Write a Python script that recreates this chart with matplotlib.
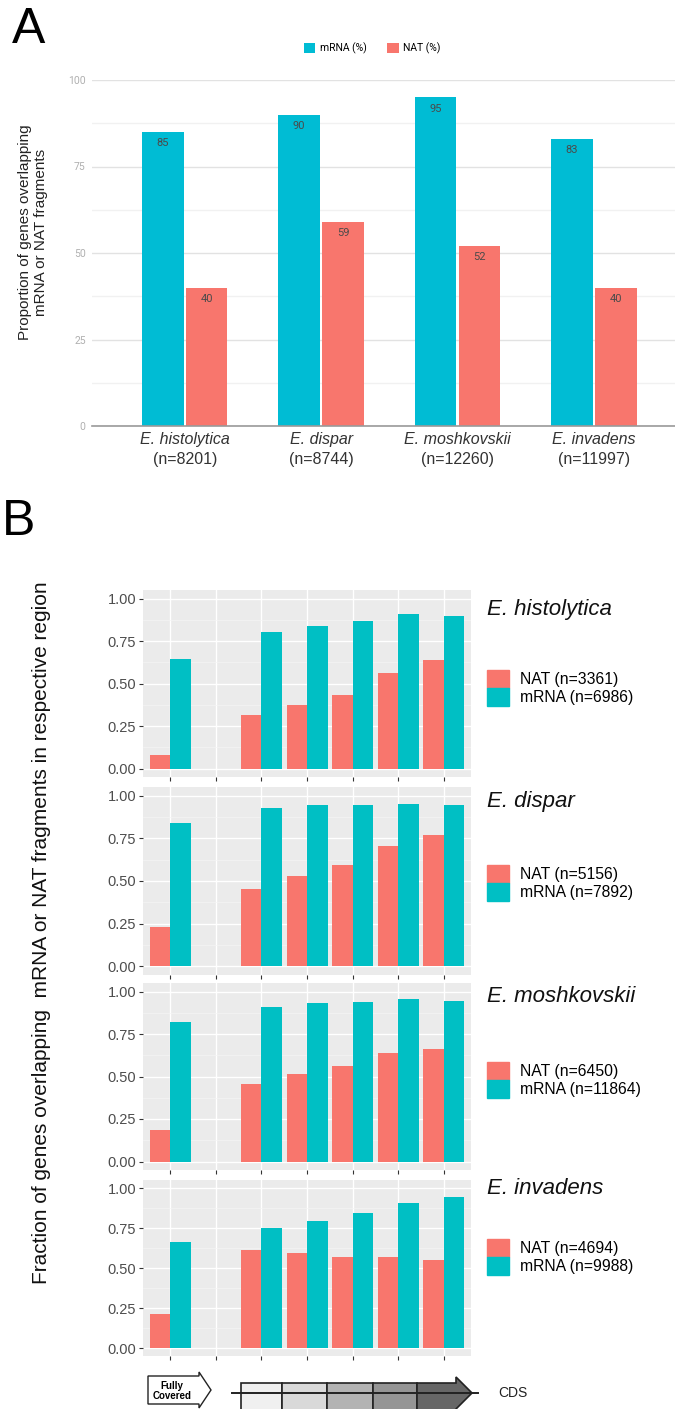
import numpy as np
import matplotlib
matplotlib.use("Agg")
import matplotlib.pyplot as plt
from matplotlib.patches import Polygon, Rectangle
from matplotlib.lines import Line2D

plt.rcParams['font.family'] = ['Liberation Sans', 'DejaVu Sans']

W, H = 675, 1409

# Panel A: proportion of genes with any overlap (%)
species = ["E. histolytica", "E. dispar", "E. moshkovskii", "E. invadens"]
gene_counts = [8201, 8744, 12260, 11997]
mrna_pct = [85, 90, 95, 83]
nat_pct = [40, 59, 52, 40]

# Panel B: fraction per gene region (second slot is an empty spacer)
regions = ["full", "", "q1", "q2", "q3", "q4", "q5"]
nat_frac = {
    "E. histolytica": [0.078, np.nan, 0.316, 0.376, 0.431, 0.559, 0.639],
    "E. dispar": [0.233, np.nan, 0.453, 0.529, 0.594, 0.704, 0.767],
    "E. moshkovskii": [0.187, np.nan, 0.456, 0.513, 0.564, 0.639, 0.660],
    "E. invadens": [0.215, np.nan, 0.610, 0.592, 0.567, 0.567, 0.552],
}
mrna_frac = {
    "E. histolytica": [0.647, np.nan, 0.805, 0.840, 0.865, 0.910, 0.900],
    "E. dispar": [0.839, np.nan, 0.929, 0.943, 0.943, 0.949, 0.943],
    "E. moshkovskii": [0.821, np.nan, 0.906, 0.931, 0.941, 0.953, 0.945],
    "E. invadens": [0.663, np.nan, 0.752, 0.792, 0.846, 0.908, 0.944],
}
nat_n = [3361, 5156, 6450, 4694]
mrna_n = [6986, 7892, 11864, 9988]

A_CYAN = "#00bcd4"
A_RED = "#f8766d"
G_RED = "#F8766D"
G_CYAN = "#00BFC4"


def rect(left, top, right, bottom):
    return [left / W, 1 - bottom / H, (right - left) / W, (bottom - top) / H]


fig = plt.figure(figsize=(W / 100, H / 100), dpi=100)

# ---------------- panel A ----------------
axA = fig.add_axes(rect(92, 80, 675, 426))
x = np.arange(len(species))
bw = 0.305
b1 = axA.bar(x - bw / 2 - 0.008, mrna_pct, bw, color=A_CYAN, zorder=3)
b2 = axA.bar(x + bw / 2 + 0.008, nat_pct, bw, color=A_RED, zorder=3)
for bars, vals in ((b1, mrna_pct), (b2, nat_pct)):
    for b, v in zip(bars, vals):
        axA.text(b.get_x() + b.get_width() / 2, v - 3.3, str(v), ha='center',
                 va='center', fontsize=8, color='#4a4a4a', family='Roboto', zorder=4)
axA.set_xlim(-0.68, 3.595)
axA.set_ylim(0, 100)
axA.set_yticks([0, 25, 50, 75, 100])
axA.set_yticks(np.arange(12.5, 100, 25), minor=True)
axA.tick_params(axis='y', which='both', length=0, labelsize=7.5, labelcolor='#b0b0b0',
                pad=4.5)
for lab in axA.get_yticklabels():
    lab.set_family('Roboto')
axA.grid(axis='y', which='major', color='#e2e2e2', lw=1, zorder=0)
axA.grid(axis='y', which='minor', color='#f1f1f1', lw=1, zorder=0)
axA.set_xticks(x)
axA.set_xticklabels([''] * len(species))
axA.tick_params(axis='x', length=0)
for s in ('top', 'right', 'left'):
    axA.spines[s].set_visible(False)
axA.spines['bottom'].set_color('#9a9a9a')
axA.spines['bottom'].set_linewidth(1.2)
axA.spines['bottom'].set_zorder(5)
for xi, name, n in zip(x, species, gene_counts):
    axA.text(xi, -1.7, name, ha='center', va='top', style='italic', fontsize=11.5,
             color='#333333')
    axA.text(xi, -7.5, "(n=%d)" % n, ha='center', va='top', fontsize=11.5,
             color='#333333')
fig.text(33 / W, 1 - 232 / H, "Proportion of genes overlapping\nmRNA or NAT fragments",
         rotation=90, fontsize=11, color='#222222', ha='center', va='center',
         linespacing=1.15)
axA.legend([b1, b2], ["mRNA (%)", "NAT (%)"], loc='center',
           bbox_to_anchor=(372 / W, 1 - 48 / H), bbox_transform=fig.transFigure,
           ncol=2, frameon=False, handlelength=1.1, handleheight=1.1,
           handletextpad=0.4, columnspacing=2.0,
           prop={'family': 'Roboto', 'size': 7.5})

# ---------------- panel B ----------------
facet_box = [(590, 777), (787, 975), (983, 1170), (1180, 1356)]
title_y = [610, 802, 997, 1188]
legend_y = [688, 883, 1080, 1257]
xr = np.arange(1, len(regions) + 1)
hw = 0.45
for i, sp in enumerate(species):
    top, bottom = facet_box[i]
    ax = fig.add_axes(rect(143, top, 471, bottom))
    ax.set_facecolor('#EBEBEB')
    ax.bar(xr - hw / 2, nat_frac[sp], hw, color=G_RED, zorder=3)
    ax.bar(xr + hw / 2, mrna_frac[sp], hw, color=G_CYAN, zorder=3)
    ax.set_xlim(0.4, 7.6)
    ax.set_ylim(-0.05, 1.05)
    ax.set_xticks(xr)
    ax.set_xticklabels([''] * len(regions))
    ax.set_yticks([0, 0.25, 0.5, 0.75, 1.0])
    ax.set_yticklabels(["0.00", "0.25", "0.50", "0.75", "1.00"])
    ax.set_yticks(np.arange(0.125, 1.0, 0.25), minor=True)
    ax.set_xticks([], minor=True)
    ax.grid(which='major', color='white', lw=1.0, zorder=0)
    ax.grid(which='minor', axis='y', color='#F5F5F5', lw=0.5, zorder=0)
    ax.tick_params(which='major', length=3, color='#333333', width=0.8,
                   labelsize=10.5, labelcolor='#4D4D4D', pad=2)
    ax.tick_params(which='minor', length=0)
    for s in ax.spines.values():
        s.set_visible(False)
    fig.text(487 / W, 1 - title_y[i] / H, sp, style='italic', fontsize=16,
             va='center', ha='left', color='#111111')
    hn = Rectangle((0, 0), 1, 1, color=G_RED)
    hm = Rectangle((0, 0), 1, 1, color=G_CYAN)
    fig.legend([hn, hm], ["NAT (n=%d)" % nat_n[i], "mRNA (n=%d)" % mrna_n[i]],
               loc='center left', bbox_to_anchor=(487 / W, 1 - legend_y[i] / H),
               frameon=False, fontsize=11.3, handlelength=1.4, handleheight=1.4,
               handletextpad=0.7, labelspacing=0.0, borderaxespad=0, borderpad=0)

# ---------------- overlay: letters, axis title, region schematic ----------------
ov = fig.add_axes([0, 0, 1, 1], zorder=10)
ov.set_xlim(0, W)
ov.set_ylim(H, 0)
ov.axis('off')
ov.text(12, 30, "A", fontsize=36, va='center', ha='left', color='black')
ov.text(2, 522, "B", fontsize=36, va='center', ha='left', color='black')
ov.text(42, 933, "Fraction of genes overlapping  mRNA or NAT fragments in respective region",
        rotation=90, fontsize=15, va='center', ha='center', color='#111111')

# "Fully covered" tag
ov.add_patch(Polygon([(148, 1376), (199, 1376), (199, 1372), (211, 1390), (199, 1408),
                      (199, 1404), (148, 1404)], closed=True, fc='white', ec='#222222',
                     lw=1))
ov.text(172, 1391, "Fully\nCovered", fontsize=7, fontweight='bold', ha='center',
        va='center', linespacing=1.05)
# CDS arrow split into five shaded segments
ov.add_line(Line2D([232, 478], [1393, 1393], color='#222222', lw=1.4))
shades = ['#f0f0f0', '#d9d9d9', '#b3b3b3', '#959595']
edges = [241, 282, 327, 373, 417]
for k, c in enumerate(shades):
    ov.add_patch(Rectangle((edges[k], 1383), edges[k + 1] - edges[k], 32, fc=c,
                           ec='#222222', lw=1.2))
ov.add_patch(Polygon([(417, 1383), (456, 1383), (456, 1377), (472, 1393), (456, 1409),
                      (456, 1415), (417, 1415)], closed=True, fc='#666666',
                     ec='#222222', lw=1.2))
ov.text(498, 1393, "CDS", fontsize=10, va='center', ha='left', color='#222222')

fig.savefig("out.png", dpi=100)
